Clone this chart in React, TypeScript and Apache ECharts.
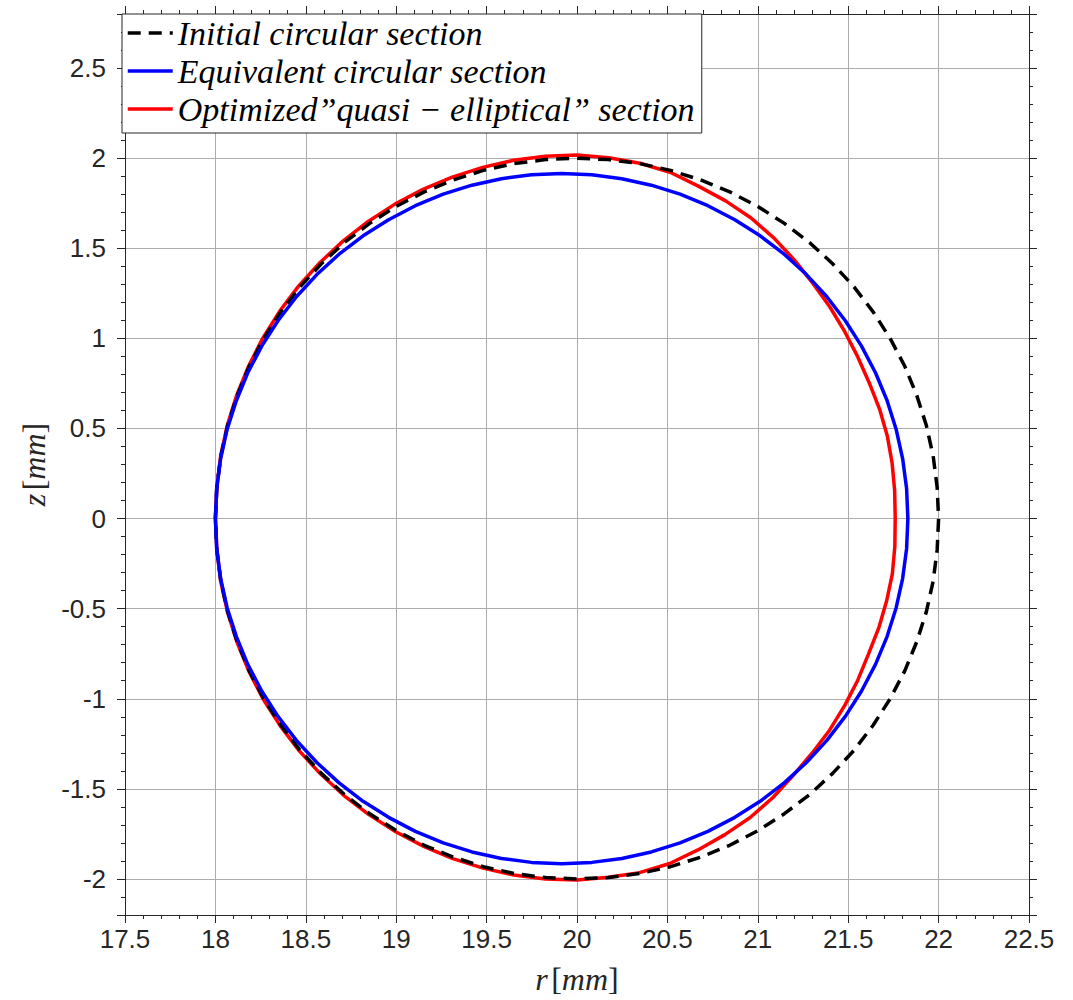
import React, { useEffect, useRef } from "react";
import * as echarts from "echarts";

// ---- data (r [mm], z [mm]) ----
const seriesNames = [
  "Initial circular section",
  "Equivalent circular section",
  "Optimized\u201Dquasi \u2212 elliptical\u201D section",
];

const initialSection: [number, number][] = [
  [18.000, 0.000], [18.008, 0.174], [18.030, 0.347], [18.068, 0.518], [18.121, 0.684],
  [18.187, 0.845], [18.268, 1.000], [18.362, 1.147], [18.468, 1.286], [18.586, 1.414],
  [18.714, 1.532], [18.853, 1.638], [19.000, 1.732], [19.155, 1.813], [19.316, 1.879],
  [19.482, 1.932], [19.653, 1.970], [19.826, 1.992], [20.000, 2.000], [20.174, 1.992],
  [20.347, 1.970], [20.518, 1.932], [20.684, 1.879], [20.845, 1.813], [21.000, 1.732],
  [21.147, 1.638], [21.286, 1.532], [21.414, 1.414], [21.532, 1.286], [21.638, 1.147],
  [21.732, 1.000], [21.813, 0.845], [21.879, 0.684], [21.932, 0.518], [21.970, 0.347],
  [21.992, 0.174], [22.000, 0.000], [21.992, -0.174], [21.970, -0.347], [21.932, -0.518],
  [21.879, -0.684], [21.813, -0.845], [21.732, -1.000], [21.638, -1.147], [21.532, -1.286],
  [21.414, -1.414], [21.286, -1.532], [21.147, -1.638], [21.000, -1.732], [20.845, -1.813],
  [20.684, -1.879], [20.518, -1.932], [20.347, -1.970], [20.174, -1.992], [20.000, -2.000],
  [19.826, -1.992], [19.653, -1.970], [19.482, -1.932], [19.316, -1.879], [19.155, -1.813],
  [19.000, -1.732], [18.853, -1.638], [18.714, -1.532], [18.586, -1.414], [18.468, -1.286],
  [18.362, -1.147], [18.268, -1.000], [18.187, -0.845], [18.121, -0.684], [18.068, -0.518],
  [18.030, -0.347], [18.008, -0.174], [18.000, 0.000],
];

const equivalentSection: [number, number][] = [
  [18.000, 0.000], [18.007, 0.167], [18.029, 0.333], [18.065, 0.496], [18.116, 0.655],
  [18.179, 0.809], [18.257, 0.958], [18.346, 1.098], [18.448, 1.231], [18.561, 1.354],
  [18.684, 1.467], [18.817, 1.569], [18.958, 1.658], [19.106, 1.736], [19.260, 1.800],
  [19.419, 1.850], [19.582, 1.886], [19.748, 1.908], [19.915, 1.915], [20.082, 1.908],
  [20.248, 1.886], [20.411, 1.850], [20.570, 1.800], [20.724, 1.736], [20.873, 1.658],
  [21.013, 1.569], [21.146, 1.467], [21.269, 1.354], [21.382, 1.231], [21.484, 1.098],
  [21.573, 0.958], [21.651, 0.809], [21.715, 0.655], [21.765, 0.496], [21.801, 0.333],
  [21.823, 0.167], [21.830, 0.000], [21.823, -0.167], [21.801, -0.333], [21.765, -0.496],
  [21.715, -0.655], [21.651, -0.809], [21.573, -0.958], [21.484, -1.098], [21.382, -1.231],
  [21.269, -1.354], [21.146, -1.467], [21.013, -1.569], [20.873, -1.658], [20.724, -1.736],
  [20.570, -1.800], [20.411, -1.850], [20.248, -1.886], [20.082, -1.908], [19.915, -1.915],
  [19.748, -1.908], [19.582, -1.886], [19.419, -1.850], [19.260, -1.800], [19.106, -1.736],
  [18.958, -1.658], [18.817, -1.569], [18.684, -1.467], [18.561, -1.354], [18.448, -1.231],
  [18.346, -1.098], [18.257, -0.958], [18.179, -0.809], [18.116, -0.655], [18.065, -0.496],
  [18.029, -0.333], [18.007, -0.167], [18.000, 0.000], [18.007, 0.167],
];

const optimizedSection: [number, number][] = [
  [18.000, 0.000], [18.008, 0.174], [18.029, 0.347], [18.066, 0.518], [18.118, 0.685],
  [18.184, 0.847], [18.263, 1.003], [18.356, 1.151], [18.461, 1.291], [18.579, 1.421],
  [18.707, 1.541], [18.845, 1.649], [18.993, 1.745], [19.148, 1.827], [19.310, 1.895],
  [19.478, 1.949], [19.649, 1.988], [19.824, 2.011], [20.000, 2.018], [20.175, 2.002],
  [20.348, 1.972], [20.515, 1.922], [20.671, 1.845], [20.822, 1.763], [20.963, 1.668],
  [21.090, 1.556], [21.203, 1.434], [21.305, 1.305], [21.399, 1.174], [21.481, 1.037],
  [21.553, 0.897], [21.616, 0.754], [21.673, 0.609], [21.716, 0.460], [21.743, 0.307],
  [21.757, 0.154], [21.760, 0.000], [21.758, -0.154], [21.744, -0.308], [21.712, -0.459],
  [21.669, -0.607], [21.612, -0.752], [21.553, -0.897], [21.481, -1.037], [21.398, -1.173],
  [21.301, -1.301], [21.196, -1.425], [21.084, -1.548], [20.958, -1.659], [20.818, -1.754],
  [20.669, -1.839], [20.513, -1.914], [20.346, -1.965], [20.174, -1.991], [20.000, -2.006],
  [19.825, -2.000], [19.651, -1.978], [19.480, -1.940], [19.313, -1.887], [19.152, -1.819],
  [18.997, -1.738], [18.849, -1.643], [18.711, -1.537], [18.582, -1.418], [18.464, -1.289],
  [18.358, -1.149], [18.264, -1.002], [18.185, -0.847], [18.119, -0.685], [18.067, -0.518],
  [18.029, -0.347], [18.008, -0.174], [18.000, 0.000], [18.008, 0.174],
];

const rRange = [17.5, 22.5];
const zRange = [-2.2, 2.8];
const majorStep = 0.5;

const AXIS_COLOR = "#262626";
const GRID_COLOR = "#adadad";
const SANS = "Liberation Sans, Arial, Helvetica, sans-serif";
const SERIF = "Liberation Serif, Times New Roman, serif";

export default function App() {
  const ref = useRef<HTMLDivElement>(null);

  useEffect(() => {
    if (!ref.current) return;
    const chart = echarts.init(ref.current, undefined, { renderer: "svg" });

    const nameRich = {
      i: { fontFamily: SERIF, fontStyle: "italic", fontSize: 32, color: AXIS_COLOR },
      u: { fontFamily: SERIF, fontStyle: "normal", fontSize: 32, color: AXIS_COLOR },
    };

    const baseTick = { show: true, inside: false, length: 8, lineStyle: { color: AXIS_COLOR, width: 1 } };
    const baseMinor = { show: true, splitNumber: 5, length: 4, lineStyle: { color: AXIS_COLOR, width: 1 } };
    const baseLine = { show: true, onZero: false, lineStyle: { color: AXIS_COLOR, width: 1 } };

    const lineSeries = (name: string, data: [number, number][], color: string, z: number, extra: any = {}) => ({
      name,
      type: "line",
      xAxisIndex: 0,
      yAxisIndex: 0,
      data,
      symbol: "none",
      showSymbol: false,
      smooth: false,
      silent: true,
      z,
      itemStyle: { color },
      lineStyle: { color, width: 3.5, ...extra },
      emphasis: { disabled: true },
    });

    const option: any = {
      animation: false,
      backgroundColor: "#ffffff",
      grid: { left: 125, top: 14, width: 904, height: 904, containLabel: false },
      legend: {
        show: true,
        orient: "vertical",
        left: 122,
        top: 14,
        padding: [2, 6, 7, 4],
        itemGap: 4,
        itemWidth: 45,
        itemHeight: 20,
        selectedMode: false,
        backgroundColor: "#ffffff",
        borderColor: AXIS_COLOR,
        borderWidth: 1,
        borderRadius: 0,
        data: seriesNames,
        itemStyle: { color: "transparent", borderColor: "transparent", borderWidth: 0, opacity: 0 },
        lineStyle: { width: 3.5 },
        textStyle: {
          fontFamily: SERIF,
          fontStyle: "italic",
          fontSize: 34,
          lineHeight: 33,
          color: "#000000",
          width: 518,
        },
      },
      xAxis: [
        {
          type: "value",
          position: "bottom",
          min: rRange[0],
          max: rRange[1],
          interval: majorStep,
          axisLine: baseLine,
          axisTick: baseTick,
          minorTick: baseMinor,
          splitLine: { show: true, lineStyle: { color: GRID_COLOR, width: 1 } },
          axisLabel: { show: true, fontFamily: SANS, fontSize: 26, color: AXIS_COLOR, margin: 11 },
          name: "{i|r} {u|[}{i|mm}{u|]}",
          nameLocation: "middle",
          nameGap: 48,
          nameTextStyle: { rich: nameRich },
        },
        {
          type: "value",
          position: "top",
          min: rRange[0],
          max: rRange[1],
          interval: majorStep,
          axisLine: baseLine,
          axisTick: baseTick,
          minorTick: baseMinor,
          splitLine: { show: false },
          axisLabel: { show: false },
        },
      ],
      yAxis: [
        {
          type: "value",
          position: "left",
          min: zRange[0],
          max: zRange[1],
          splitNumber: 10,
          axisLine: baseLine,
          axisTick: baseTick,
          minorTick: baseMinor,
          splitLine: { show: true, lineStyle: { color: GRID_COLOR, width: 1 } },
          axisLabel: {
            show: true,
            fontFamily: SANS,
            fontSize: 26,
            color: AXIS_COLOR,
            margin: 19,
            showMinLabel: false,
            showMaxLabel: false,
          },
          name: "{i|z} {u|[}{i|mm}{u|]}",
          nameLocation: "middle",
          nameGap: 72,
          nameTextStyle: { rich: nameRich },
        },
        {
          type: "value",
          position: "right",
          min: zRange[0],
          max: zRange[1],
          splitNumber: 10,
          axisLine: baseLine,
          axisTick: baseTick,
          minorTick: baseMinor,
          splitLine: { show: false },
          axisLabel: { show: false },
        },
      ],
      series: [
        lineSeries(seriesNames[2], optimizedSection, "#ff0000", 2),
        lineSeries(seriesNames[0], initialSection, "#000000", 3, { type: [13, 8], cap: "butt" }),
        lineSeries(seriesNames[1], equivalentSection, "#0000ff", 4),
      ],
    };

    chart.setOption(option);
    return () => chart.dispose();
  }, []);

  return (
    <div
      ref={ref}
      style={{ position: "fixed", left: 0, top: 0, width: 1073, height: 1000, background: "#fff" }}
    />
  );
}
